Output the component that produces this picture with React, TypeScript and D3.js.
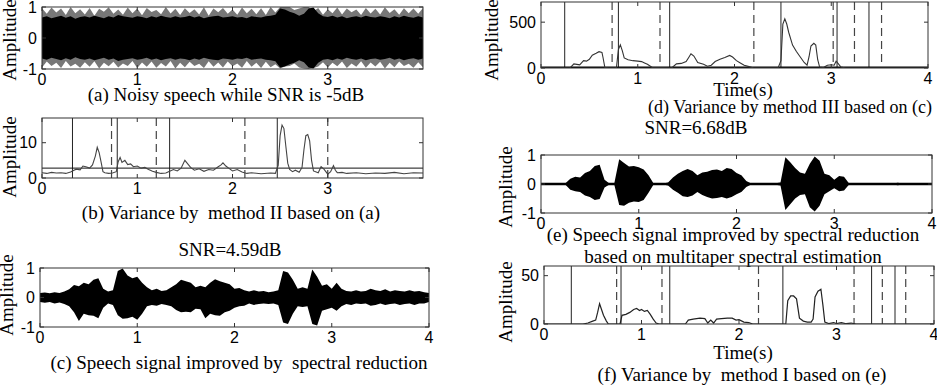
import { useEffect, useRef } from 'react';
import * as d3 from 'd3';

const WIDTH = 937;
const HEIGHT = 386;
const SERIF = '"Liberation Serif", "Times New Roman", serif';
const SANS = '"Liberation Sans", Arial, sans-serif';

// Envelope arrays are sampled every 50 ms over 0..4 s
const ENV_STEP = 0.05;

// (a) noisy speech, SNR -5 dB: outer peaks and dense core (magnitudes)
const noisyPeakUp = [
  0.96, 0.78, 0.98, 0.82, 0.95, 0.74, 1.0, 0.8, 0.93, 0.76, 0.97, 0.72, 0.94, 0.85, 0.99, 0.78, 0.92, 0.75, 0.98, 0.8,
  0.95, 0.73, 0.97, 0.84, 0.9, 0.77, 1.0, 0.79, 0.94, 0.74, 0.96, 0.81, 0.93, 0.76, 0.99, 0.72, 0.95, 0.83, 0.97, 0.78,
  0.92, 0.75, 0.98, 0.8, 0.94, 0.77, 0.96, 0.74, 1.0, 0.82, 1.0, 1.0, 1.0, 0.9, 0.95, 1.0, 1.0, 0.86, 0.97, 0.75,
  0.93, 0.8, 0.98, 0.76, 0.95, 0.83, 0.92, 0.74, 0.97, 0.79, 0.94, 0.76, 0.99, 0.81, 0.93, 0.75, 0.96, 0.8, 0.95, 0.78, 0.97,
];
const noisyPeakLow = [
  0.95, 0.76, 0.9, 0.8, 0.97, 0.74, 0.92, 0.83, 0.96, 0.78, 0.93, 0.75, 0.98, 0.8, 0.91, 0.77, 0.95, 0.82, 0.9, 0.74,
  0.97, 0.79, 0.93, 0.76, 0.96, 0.81, 0.92, 0.74, 0.98, 0.8, 0.94, 0.77, 0.9, 0.83, 0.97, 0.75, 0.93, 0.79, 0.95, 0.76,
  0.91, 0.82, 0.96, 0.74, 0.93, 0.8, 0.97, 0.77, 0.94, 0.85, 0.98, 0.92, 0.9, 0.82, 0.95, 0.98, 1.0, 0.97, 0.92, 0.78,
  0.95, 0.8, 0.91, 0.76, 0.97, 0.82, 0.93, 0.75, 0.96, 0.79, 0.92, 0.77, 0.98, 0.8, 0.94, 0.76, 0.9, 0.83, 0.96, 0.78, 0.94,
];
const noisyCore = [
  0.66, 0.7, 0.64, 0.68, 0.72, 0.65, 0.7, 0.62, 0.68, 0.7, 0.66, 0.72, 0.68, 0.64, 0.7, 0.66, 0.74, 0.7, 0.68, 0.65,
  0.7, 0.68, 0.64, 0.7, 0.66, 0.72, 0.68, 0.65, 0.7, 0.66, 0.68, 0.72, 0.66, 0.7, 0.64, 0.68, 0.7, 0.72, 0.66, 0.68,
  0.7, 0.66, 0.68, 0.64, 0.7, 0.68, 0.66, 0.7, 0.72, 0.75, 0.95, 0.92, 0.85, 0.8, 0.72, 0.78, 0.95, 0.98, 0.8, 0.7,
  0.68, 0.72, 0.66, 0.7, 0.64, 0.68, 0.7, 0.66, 0.72, 0.68, 0.66, 0.7, 0.68, 0.64, 0.7, 0.66, 0.72, 0.68, 0.65, 0.7, 0.66,
];

// (c) spectral reduction output, SNR 4.59 dB
const reducedUp = [
  0.15, 0.17, 0.14, 0.18, 0.15, 0.2, 0.28, 0.42, 0.38, 0.5, 0.45, 0.6, 0.65, 0.3, 0.2, 0.25, 0.9, 0.98, 0.75, 0.65,
  0.7, 0.5, 0.35, 0.25, 0.3, 0.22, 0.25, 0.35, 0.45, 0.6, 0.55, 0.5, 0.35, 0.4, 0.35, 0.5, 0.62, 0.55, 0.5, 0.45,
  0.3, 0.32, 0.25, 0.2, 0.25, 0.2, 0.22, 0.18, 0.2, 0.25, 0.9, 0.85, 0.6, 0.3, 0.35, 0.3, 0.95, 0.7, 0.4, 0.45,
  0.3, 0.5, 0.3, 0.22, 0.2, 0.25, 0.2, 0.22, 0.3, 0.25, 0.22, 0.28, 0.2, 0.25, 0.22, 0.2, 0.25, 0.2, 0.22, 0.18, 0.15,
];
const reducedLow = [
  0.15, 0.18, 0.15, 0.2, 0.17, 0.22, 0.3, 0.5, 0.8, 0.55, 0.6, 0.62, 0.7, 0.35, 0.2, 0.25, 0.6, 0.72, 0.7, 0.65,
  0.75, 0.55, 0.3, 0.25, 0.28, 0.22, 0.25, 0.3, 0.42, 0.5, 0.48, 0.5, 0.38, 0.4, 0.7, 0.55, 0.6, 0.62, 0.5, 0.45,
  0.35, 0.3, 0.28, 0.2, 0.25, 0.22, 0.2, 0.22, 0.2, 0.25, 0.85, 0.9, 0.55, 0.3, 0.32, 0.3, 0.9, 0.95, 0.45, 0.4,
  0.35, 0.45, 0.3, 0.22, 0.25, 0.2, 0.22, 0.2, 0.28, 0.25, 0.2, 0.25, 0.22, 0.2, 0.25, 0.22, 0.2, 0.25, 0.2, 0.2, 0.15,
];

// (e) multitaper spectral reduction output, SNR 6.68 dB
const multitaperUp = [
  0.02, 0.02, 0.03, 0.02, 0.02, 0.03, 0.18, 0.25, 0.22, 0.38, 0.45, 0.62, 0.66, 0.15, 0.02, 0.03,
  0.85, 0.72, 0.6, 0.62, 0.58, 0.5, 0.3, 0.03, 0.02, 0.02, 0.05, 0.22, 0.35, 0.45, 0.52, 0.45, 0.3, 0.4, 0.42, 0.48,
  0.5, 0.45, 0.55, 0.52, 0.38, 0.3, 0.1, 0.02, 0.02, 0.02, 0.02, 0.02, 0.03, 0.05, 0.92, 0.75, 0.55, 0.4, 0.35, 0.7,
  0.95, 0.8, 0.35, 0.3, 0.15, 0.28, 0.25, 0.03, 0.02, 0.02,
  0.02, 0.03, 0.02, 0.02, 0.03, 0.02, 0.02, 0.04, 0.02, 0.02, 0.03, 0.02, 0.02, 0.02, 0.02,
];
const multitaperLow = [
  0.02, 0.02, 0.03, 0.02, 0.02, 0.03, 0.2, 0.25, 0.28, 0.4, 0.45, 0.55, 0.52, 0.12, 0.02, 0.03,
  0.72, 0.75, 0.65, 0.6, 0.62, 0.55, 0.3, 0.03, 0.02, 0.02, 0.05, 0.2, 0.3, 0.42, 0.45, 0.4, 0.28, 0.38, 0.45, 0.5,
  0.48, 0.45, 0.5, 0.45, 0.35, 0.28, 0.1, 0.02, 0.02, 0.02, 0.02, 0.02, 0.03, 0.05, 0.9, 0.7, 0.5, 0.38, 0.35, 0.8,
  0.95, 0.75, 0.35, 0.25, 0.15, 0.25, 0.22, 0.03, 0.02, 0.02,
  0.02, 0.03, 0.02, 0.02, 0.03, 0.02, 0.02, 0.04, 0.02, 0.02, 0.03, 0.02, 0.02, 0.02, 0.02,
];

// (b) variance, method II: [time s, value]
const varianceII: [number, number][] = [
  [0, 1.5], [0.05, 1.3], [0.1, 1.6], [0.15, 1.4], [0.2, 1.5], [0.25, 1.3], [0.3, 1.7], [0.33, 2.1], [0.36, 2.5],
  [0.4, 2.3], [0.43, 3.4], [0.46, 3.2], [0.5, 2.8], [0.53, 3.7], [0.56, 6.2], [0.58, 8.7], [0.6, 7.2], [0.62, 4.6],
  [0.64, 1.8], [0.66, 1.5], [0.7, 1.3], [0.74, 1.4], [0.78, 1.8], [0.8, 4.6], [0.82, 5.8], [0.84, 4.4], [0.87, 5.0],
  [0.9, 3.8], [0.93, 4.0], [0.96, 3.2], [1.0, 3.4], [1.04, 2.8], [1.08, 3.0], [1.12, 2.4], [1.16, 1.9], [1.2, 1.6],
  [1.25, 1.3], [1.3, 1.4], [1.34, 1.9], [1.38, 2.4], [1.42, 2.0], [1.46, 2.8], [1.5, 5.0], [1.53, 4.0], [1.56, 3.0],
  [1.6, 2.2], [1.65, 2.6], [1.7, 1.9], [1.75, 2.4], [1.8, 2.2], [1.85, 3.2], [1.88, 3.7], [1.9, 4.3], [1.93, 3.4],
  [1.96, 2.8], [2.0, 2.0], [2.05, 2.4], [2.1, 1.7], [2.15, 1.3], [2.2, 1.5], [2.3, 1.2], [2.4, 1.4], [2.45, 1.3],
  [2.48, 3.6], [2.5, 12.0], [2.52, 15.0], [2.54, 14.0], [2.56, 9.0], [2.58, 4.2], [2.6, 2.4], [2.63, 1.8], [2.66, 2.2],
  [2.7, 1.6], [2.73, 3.0], [2.75, 8.0], [2.77, 12.0], [2.79, 12.3], [2.81, 10.5], [2.83, 5.0], [2.85, 2.0], [2.9, 1.5],
  [2.93, 3.2], [2.96, 2.5], [3.0, 1.1], [3.03, 1.8], [3.06, 3.5], [3.08, 2.2], [3.1, 1.5], [3.15, 1.6], [3.2, 1.3],
  [3.3, 1.5], [3.4, 1.2], [3.5, 1.4], [3.6, 1.3], [3.7, 1.6], [3.8, 1.2], [3.9, 1.5], [4.0, 1.4],
];
const thresholdII = 2.8;
const startsII = [0.32, 0.79, 1.34, 2.47];
const endsII = [0.73, 1.2, 2.13, 3.0];

// (d) variance, method III
const varianceIII: [number, number][] = [
  [0, 0], [0.3, 0], [0.34, 45], [0.37, 40], [0.4, 35], [0.44, 80], [0.47, 75], [0.5, 95], [0.53, 140], [0.57, 160],
  [0.6, 178], [0.63, 170], [0.64, 120], [0.66, 5], [0.7, 0], [0.76, 0], [0.78, 5], [0.8, 200], [0.82, 252], [0.84, 190],
  [0.86, 110], [0.9, 90], [0.95, 80], [1.0, 75], [1.04, 70], [1.07, 55], [1.1, 40], [1.15, 5], [1.35, 0], [1.4, 45],
  [1.45, 50], [1.5, 70], [1.53, 120], [1.55, 155], [1.58, 130], [1.62, 60], [1.68, 40], [1.72, 20], [1.76, 30], [1.8, 70],
  [1.85, 95], [1.9, 115], [1.95, 137], [1.98, 120], [2.02, 80], [2.06, 55], [2.1, 30], [2.15, 15], [2.2, 0], [2.45, 0],
  [2.48, 80], [2.5, 480], [2.52, 537], [2.54, 480], [2.56, 390], [2.6, 250], [2.64, 180], [2.68, 120], [2.72, 60], [2.75, 30],
  [2.77, 120], [2.79, 240], [2.82, 270], [2.84, 250], [2.86, 90], [2.88, 10], [2.92, 5], [2.96, 30], [3.0, 35], [3.03, 30],
  [3.05, 74], [3.07, 50], [3.1, 10], [3.15, 0], [4.0, 0],
];
const startsIII = [0.245, 0.8, 1.33, 2.48, 3.06, 3.39];
const endsIII = [0.735, 1.23, 2.2, 3.02, 3.24, 3.52];

// (f) variance, method I
const varianceI: [number, number][] = [
  [0, 0], [0.4, 0], [0.45, 1], [0.5, 3], [0.53, 4], [0.55, 12], [0.57, 21], [0.59, 15], [0.61, 9], [0.64, 3], [0.66, 0],
  [0.78, 0], [0.8, 9], [0.84, 10], [0.88, 12], [0.92, 15], [0.95, 16], [0.98, 14], [1.0, 15], [1.03, 13], [1.06, 14],
  [1.09, 10], [1.12, 5], [1.15, 1], [1.18, 0], [1.45, 0], [1.48, 4], [1.53, 5], [1.6, 6], [1.65, 5.5], [1.68, 1],
  [1.71, 4], [1.74, 1], [1.77, 5], [1.82, 5.5], [1.88, 6], [1.93, 6], [1.97, 4], [2.0, 4.5], [2.05, 2], [2.1, 1.5],
  [2.14, 0], [2.48, 0], [2.5, 24], [2.53, 29], [2.56, 29], [2.59, 26], [2.62, 6], [2.66, 3], [2.7, 2], [2.74, 2],
  [2.76, 5], [2.78, 28], [2.81, 34], [2.84, 36], [2.86, 20], [2.88, 2], [2.92, 0.5], [2.97, 1.5], [3.0, 0.5],
  [3.05, 1.5], [3.1, 0.3], [3.15, 1], [3.2, 0], [4, 0],
];
const startsI = [0.28, 0.79, 1.29, 2.45, 3.36, 3.6];
const endsI = [0.745, 1.21, 2.2, 3.18, 3.47, 3.71];

const timeTicksShort = [0, 1, 2, 3];
const timeTicks = [0, 1, 2, 3, 4];
const ampTicks = [-1, 0, 1];

interface PanelSpec {
  id: string;
  left: number;
  right: number;
  top: number;
  bottom: number;
  yDomain: [number, number];
  xTicks: number[];
  yTicks: number[];
  labelX: number;
  labelY: number;
}

type Sel = d3.Selection<SVGSVGElement, unknown, null, undefined>;

function openPanel(svg: Sel, p: PanelSpec) {
  const x = d3.scaleLinear().domain([0, 4]).range([p.left, p.right]);
  const y = d3.scaleLinear().domain(p.yDomain).range([p.bottom, p.top]);
  svg.append('clipPath').attr('id', p.id)
    .append('rect')
    .attr('x', p.left).attr('y', p.top)
    .attr('width', p.right - p.left).attr('height', p.bottom - p.top);
  const plot = svg.append('g').attr('clip-path', `url(#${p.id})`);
  return { x, y, plot };
}

function closePanel(svg: Sel, p: PanelSpec, x: d3.ScaleLinear<number, number>, y: d3.ScaleLinear<number, number>) {
  const g = svg.append('g');
  const stroke = '#333';
  g.append('rect')
    .attr('x', p.left).attr('y', p.top)
    .attr('width', p.right - p.left).attr('height', p.bottom - p.top)
    .attr('fill', 'none').attr('stroke', stroke).attr('stroke-width', 1);

  // inward MATLAB-style ticks on all four sides
  p.xTicks.forEach(t => {
    g.append('line').attr('x1', x(t)).attr('x2', x(t)).attr('y1', p.bottom).attr('y2', p.bottom - 4).attr('stroke', stroke);
    g.append('line').attr('x1', x(t)).attr('x2', x(t)).attr('y1', p.top).attr('y2', p.top + 4).attr('stroke', stroke);
    g.append('text')
      .attr('x', x(t)).attr('y', p.bottom + 16)
      .attr('text-anchor', 'middle')
      .attr('font-family', SANS).attr('font-size', 16)
      .text(t);
  });
  p.yTicks.forEach(v => {
    g.append('line').attr('x1', p.left).attr('x2', p.left + 4).attr('y1', y(v)).attr('y2', y(v)).attr('stroke', stroke);
    g.append('line').attr('x1', p.right).attr('x2', p.right - 4).attr('y1', y(v)).attr('y2', y(v)).attr('stroke', stroke);
    g.append('text')
      .attr('x', p.left - 5).attr('y', y(v) + 5.5)
      .attr('text-anchor', 'end')
      .attr('font-family', SANS).attr('font-size', 16)
      .text(v);
  });

  g.append('text')
    .attr('transform', `translate(${p.labelX}, ${p.labelY}) rotate(-90)`)
    .attr('dy', '0.35em')
    .attr('text-anchor', 'middle')
    .attr('font-family', SERIF).attr('font-size', 19)
    .text('Amplitude');
}

function drawMarkers(plot: d3.Selection<SVGGElement, unknown, null, undefined>, p: PanelSpec,
  x: d3.ScaleLinear<number, number>, starts: number[], ends: number[]) {
  starts.forEach(t => {
    plot.append('line').attr('x1', x(t)).attr('x2', x(t)).attr('y1', p.top).attr('y2', p.bottom)
      .attr('stroke', '#222').attr('stroke-width', 1);
  });
  ends.forEach(t => {
    plot.append('line').attr('x1', x(t)).attr('x2', x(t)).attr('y1', p.top).attr('y2', p.bottom)
      .attr('stroke', '#444').attr('stroke-width', 1.2).attr('stroke-dasharray', '8,5');
  });
}

function envelope(x: d3.ScaleLinear<number, number>, y: d3.ScaleLinear<number, number>, low: number[]) {
  return d3.area<number>()
    .x((_, i) => x(i * ENV_STEP))
    .y0((_, i) => y(-low[i]))
    .y1(d => y(d));
}

function caption(svg: Sel, cx: number, cy: number, text: string, size = 19) {
  svg.append('text')
    .attr('x', cx).attr('y', cy + 6)
    .attr('text-anchor', 'middle')
    .attr('font-family', SERIF).attr('font-size', size)
    .style('white-space', 'pre')
    .text(text);
}

const App = () => {
  const svgRef = useRef<SVGSVGElement>(null);

  useEffect(() => {
    if (!svgRef.current) return;
    const svg = d3.select(svgRef.current);
    svg.selectAll('*').remove();

    // (a) noisy speech
    const pa: PanelSpec = { id: 'clip-a', left: 42, right: 423, top: 7, bottom: 69, yDomain: [-1, 1], xTicks: timeTicksShort, yTicks: ampTicks, labelX: 9, labelY: 40 };
    {
      const { x, y, plot } = openPanel(svg, pa);
      plot.append('path').datum(noisyPeakUp).attr('fill', '#777').attr('d', envelope(x, y, noisyPeakLow));
      plot.append('path').datum(noisyCore).attr('fill', '#000').attr('d', envelope(x, y, noisyCore));
      closePanel(svg, pa, x, y);
      caption(svg, 226, 95, '(a) Noisy speech while SNR is -5dB');
    }

    // (b) variance by method II
    const pb: PanelSpec = { id: 'clip-b', left: 42, right: 423, top: 118, bottom: 178, yDomain: [0, 17], xTicks: timeTicksShort, yTicks: [0, 10], labelX: 9, labelY: 157 };
    {
      const { x, y, plot } = openPanel(svg, pb);
      drawMarkers(plot, pb, x, startsII, endsII);
      plot.append('line').attr('x1', x(0)).attr('x2', x(4)).attr('y1', y(thresholdII)).attr('y2', y(thresholdII))
        .attr('stroke', '#111').attr('stroke-width', 1);
      plot.append('path').datum(varianceII)
        .attr('fill', 'none').attr('stroke', '#444').attr('stroke-width', 1.1)
        .attr('d', d3.line<[number, number]>().x(d => x(d[0])).y(d => y(d[1])));
      closePanel(svg, pb, x, y);
      caption(svg, 231, 213, '(b) Variance by  method II based on (a)');
    }

    // (c) spectral reduction
    const pc: PanelSpec = { id: 'clip-c', left: 40, right: 429, top: 268, bottom: 327, yDomain: [-1, 1], xTicks: timeTicks, yTicks: ampTicks, labelX: 6, labelY: 295 };
    {
      const { x, y, plot } = openPanel(svg, pc);
      plot.append('path').datum(reducedUp).attr('fill', '#000').attr('d', envelope(x, y, reducedLow));
      closePanel(svg, pc, x, y);
      caption(svg, 230, 250, 'SNR=4.59dB');
      caption(svg, 239, 363, '(c) Speech signal improved by  spectral reduction');
    }

    // (d) variance by method III
    const pd: PanelSpec = { id: 'clip-d', left: 541, right: 928, top: 2, bottom: 68, yDomain: [0, 720], xTicks: timeTicks, yTicks: [0, 500], labelX: 491, labelY: 40 };
    {
      const { x, y, plot } = openPanel(svg, pd);
      drawMarkers(plot, pd, x, startsIII, endsIII);
      plot.append('line').attr('x1', x(0)).attr('x2', x(4)).attr('y1', y(0)).attr('y2', y(0))
        .attr('stroke', '#000').attr('stroke-width', 3);
      plot.append('path').datum(varianceIII)
        .attr('fill', 'none').attr('stroke', '#333').attr('stroke-width', 1.1)
        .attr('d', d3.line<[number, number]>().x(d => x(d[0])).y(d => y(d[1])));
      closePanel(svg, pd, x, y);
      caption(svg, 743, 90, 'Time(s)');
      caption(svg, 790, 107, '(d) Variance by method III based on (c)', 18);
      caption(svg, 696, 128, 'SNR=6.68dB');
    }

    // (e) multitaper spectral reduction
    const pe: PanelSpec = { id: 'clip-e', left: 541, right: 932, top: 155, bottom: 213, yDomain: [-1, 1], xTicks: timeTicks, yTicks: ampTicks, labelX: 505, labelY: 187 };
    {
      const { x, y, plot } = openPanel(svg, pe);
      plot.append('path').datum(multitaperUp).attr('fill', '#000').attr('d', envelope(x, y, multitaperLow));
      plot.append('line').attr('x1', x(0)).attr('x2', x(4)).attr('y1', y(0)).attr('y2', y(0))
        .attr('stroke', '#000').attr('stroke-width', 2.5);
      closePanel(svg, pe, x, y);
      caption(svg, 733, 235, '(e) Speech signal improved by spectral reduction');
      caption(svg, 733, 257, 'based on multitaper spectral estimation');
    }

    // (f) variance by method I
    const pf: PanelSpec = { id: 'clip-f', left: 544, right: 934, top: 266, bottom: 324, yDomain: [0, 60], xTicks: timeTicks, yTicks: [0, 50], labelX: 505, labelY: 302 };
    {
      const { x, y, plot } = openPanel(svg, pf);
      drawMarkers(plot, pf, x, startsI, endsI);
      plot.append('path').datum(varianceI)
        .attr('fill', 'none').attr('stroke', '#222').attr('stroke-width', 1.2)
        .attr('d', d3.line<[number, number]>().x(d => x(d[0])).y(d => y(d[1])));
      closePanel(svg, pf, x, y);
      caption(svg, 743, 353, 'Time(s)');
      caption(svg, 742, 375, '(f) Variance by  method I based on (e)');
    }
  }, []);

  return (
    <svg
      ref={svgRef}
      width={WIDTH}
      height={HEIGHT}
      style={{ position: 'absolute', left: 0, top: 0, background: '#fff' }}
    />
  );
};

export default App;
